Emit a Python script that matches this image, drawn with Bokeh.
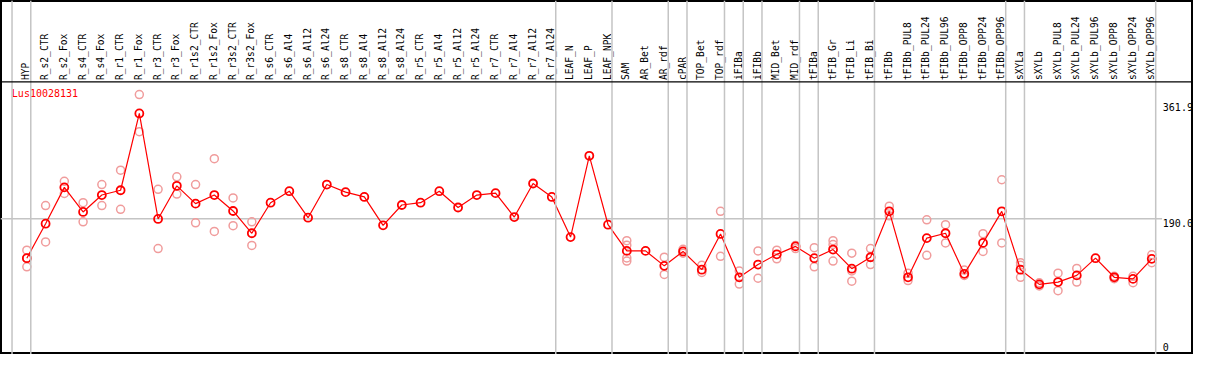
import numpy as np
from bokeh.plotting import figure
from bokeh.models import Range1d, ColumnDataSource, Span
from bokeh.core.properties import value
from bokeh.embed import file_html
from bokeh.resources import INLINE

gene = "Lus10028131"

categories = [
    "HYP", "R_s2_CTR", "R_s2_Fox", "R_s4_CTR", "R_s4_Fox", "R_r1_CTR", "R_r1_Fox",
    "R_r3_CTR", "R_r3_Fox", "R_r1s2_CTR", "R_r1s2_Fox", "R_r3s2_CTR", "R_r3s2_Fox",
    "R_s6_CTR", "R_s6_Al4", "R_s6_Al12", "R_s6_Al24", "R_s8_CTR", "R_s8_Al4",
    "R_s8_Al12", "R_s8_Al24", "R_r5_CTR", "R_r5_Al4", "R_r5_Al12", "R_r5_Al24",
    "R_r7_CTR", "R_r7_Al4", "R_r7_Al12", "R_r7_Al24", "LEAF_N", "LEAF_P", "LEAF_NPK",
    "SAM", "AR_Bet", "AR_rdf", "cPAR", "TOP_Bet", "TOP_rdf", "iFIBa", "iFIBb",
    "MID_Bet", "MID_rdf", "tFIBa", "tFIB_Gr", "tFIB_Li", "tFIB_Bi", "tFIBb",
    "tFIBb_PUL8", "tFIBb_PUL24", "tFIBb_PUL96", "tFIBb_OPP8", "tFIBb_OPP24",
    "tFIBb_OPP96", "sXYLa", "sXYLb", "sXYLb_PUL8", "sXYLb_PUL24", "sXYLb_PUL96",
    "sXYLb_OPP8", "sXYLb_OPP24", "sXYLb_OPP96",
]

means = [
    131.3, 182.5, 236.5, 200.0, 225.1, 232.2, 346.3, 189.6, 238.8, 212.3, 225.1,
    201.4, 168.3, 213.7, 230.8, 191.4, 240.7, 229.4, 222.3, 180.1, 210.3, 213.7,
    230.8, 206.6, 225.1, 227.9, 192.4, 242.2, 222.3, 162.6, 283.4, 181.0, 142.1,
    142.1, 119.9, 141.3, 114.2, 167.3, 102.9, 121.8, 137.0, 148.8, 131.3, 144.1,
    115.7, 132.7, 200.9, 102.9, 161.1, 168.3, 108.0, 154.0, 200.9, 114.2, 92.4,
    95.8, 105.7, 131.3, 102.9, 100.5, 130.3,
]

rep_cat = [
    "HYP", "HYP", "HYP", "R_s2_CTR", "R_s2_CTR", "R_s2_Fox", "R_s2_Fox",
    "R_s4_CTR", "R_s4_CTR", "R_s4_Fox", "R_s4_Fox", "R_r1_CTR", "R_r1_CTR",
    "R_r1_Fox", "R_r1_Fox", "R_r3_CTR", "R_r3_CTR", "R_r3_Fox", "R_r3_Fox",
    "R_r1s2_CTR", "R_r1s2_CTR", "R_r1s2_Fox", "R_r1s2_Fox", "R_r3s2_CTR",
    "R_r3s2_CTR", "R_r3s2_Fox", "R_r3s2_Fox",
    "SAM", "SAM", "SAM", "SAM", "AR_rdf", "AR_rdf", "cPAR", "cPAR",
    "TOP_Bet", "TOP_Bet", "TOP_rdf", "TOP_rdf", "iFIBa", "iFIBa", "iFIBb", "iFIBb",
    "MID_Bet", "MID_Bet", "MID_rdf", "MID_rdf", "tFIBa", "tFIBa",
    "tFIB_Gr", "tFIB_Gr", "tFIB_Gr", "tFIB_Li", "tFIB_Li", "tFIB_Li",
    "tFIB_Bi", "tFIB_Bi", "tFIBb", "tFIBb", "tFIBb_PUL8", "tFIBb_PUL8",
    "tFIBb_PUL24", "tFIBb_PUL24", "tFIBb_PUL96", "tFIBb_PUL96",
    "tFIBb_OPP8", "tFIBb_OPP8", "tFIBb_OPP24", "tFIBb_OPP24",
    "tFIBb_OPP96", "tFIBb_OPP96", "sXYLa", "sXYLa", "sXYLa", "sXYLb", "sXYLb",
    "sXYLb_PUL8", "sXYLb_PUL8", "sXYLb_PUL24", "sXYLb_PUL24",
    "sXYLb_OPP8", "sXYLb_OPP8", "sXYLb_OPP24", "sXYLb_OPP24",
    "sXYLb_OPP96", "sXYLb_OPP96",
]

rep_val = [
    143.1, 131.3, 118.5, 209.5, 155.5, 245.4, 227.4,
    213.7, 185.3, 240.7, 209.5, 262.1, 203.8,
    374.3, 319.3, 233.6, 145.5, 252.1, 226.5,
    240.7, 183.9, 279.1, 171.1, 220.8,
    179.6, 185.3, 150.2,
    157.3, 150.6, 131.7, 127.0, 132.7, 107.1, 144.5, 138.8,
    120.8, 110.0, 200.9, 134.1, 112.3, 92.9, 142.1, 101.5,
    143.1, 130.3, 150.2, 145.5, 146.9, 118.5,
    157.3, 151.6, 127.0, 138.8, 112.3, 97.2,
    145.5, 121.8, 208.5, 194.3, 109.0, 98.0,
    188.2, 135.6, 181.0, 154.0,
    113.7, 105.7, 167.7, 141.3,
    247.8, 154.0, 124.6, 120.8, 102.9, 94.8, 90.1,
    109.0, 83.0, 116.1, 95.8,
    104.3, 100.9, 104.3, 94.8,
    136.4, 124.6,
]

# group separators: drawn just right of these category indices (-1 = left of first)
group_ends = [-1, 0, 28, 31, 34, 35, 37, 38, 39, 41, 42, 45, 52, 53, 60]

right_ticks = [361.9, 190.0]
right_labels = ["361.9", "190.0"]
zero_label = "0"
ref_level = 190.0

MONO = value("DejaVu Sans Mono")
RED = "#ff0000"
PINK = "#f09c9c"
GRAY = "#c4c4c4"

idx = {c: i for i, c in enumerate(categories)}
x_means = list(range(len(categories)))
x_reps = [idx[c] for c in rep_cat]

p = figure(
    width=1193, height=354,
    x_range=Range1d(-1.405, 62.226), y_range=Range1d(-11.8, 514.1),
    output_backend="svg", toolbar_location=None,
    x_axis_location=None, y_axis_location=None,
    min_border=0,
)
p.grid.visible = False
p.outline_line_color = "black"
p.outline_line_width = 3
p.background_fill_color = "white"
p.border_fill_color = "white"

# vertical group separators
for g in group_ends:
    p.add_layout(Span(location=g + 0.21, dimension="height",
                      line_color=GRAY, line_width=1.5))

# header line
p.add_layout(Span(location=393.2, dimension="width", line_color="black", line_width=1.2))

# reference level line
p.segment(x0=[-1.405], x1=[60.55], y0=[ref_level], y1=[ref_level],
          line_color=GRAY, line_width=1.5)

# replicate points
p.scatter(x=x_reps, y=rep_val, marker="circle", size=8,
          line_color=PINK, fill_color=None, line_width=1.5)

# mean line + points
p.line(x=x_means, y=means, line_color=RED, line_width=1.2)
p.scatter(x=x_means, y=means, marker="circle", size=8,
          line_color=RED, fill_color=None, line_width=1.8)

# category labels (rotated)
lab_src = ColumnDataSource(dict(x=[i - 0.05 for i in x_means],
                                y=[396.0] * len(categories), t=categories))
p.text(x="x", y="y", text="t", source=lab_src, angle=np.pi / 2,
       text_align="left", text_baseline="middle",
       text_font=MONO, text_font_size="9.6px", text_color="black")

# gene name
p.text(x=[-0.8], y=[376.0], text=[gene], text_align="left", text_baseline="middle",
       text_font=MONO, text_font_size="10px", text_color=RED)

# right value labels
p.text(x=[60.59] * len(right_ticks), y=right_ticks, text=right_labels,
       text_align="left", text_baseline="top",
       text_font=MONO, text_font_size="10px", text_color="black")
p.text(x=[60.59], y=[-6.5], text=[zero_label],
       text_align="left", text_baseline="bottom",
       text_font=MONO, text_font_size="10px", text_color="black")

open("out.html", "w").write(file_html(p, INLINE))
